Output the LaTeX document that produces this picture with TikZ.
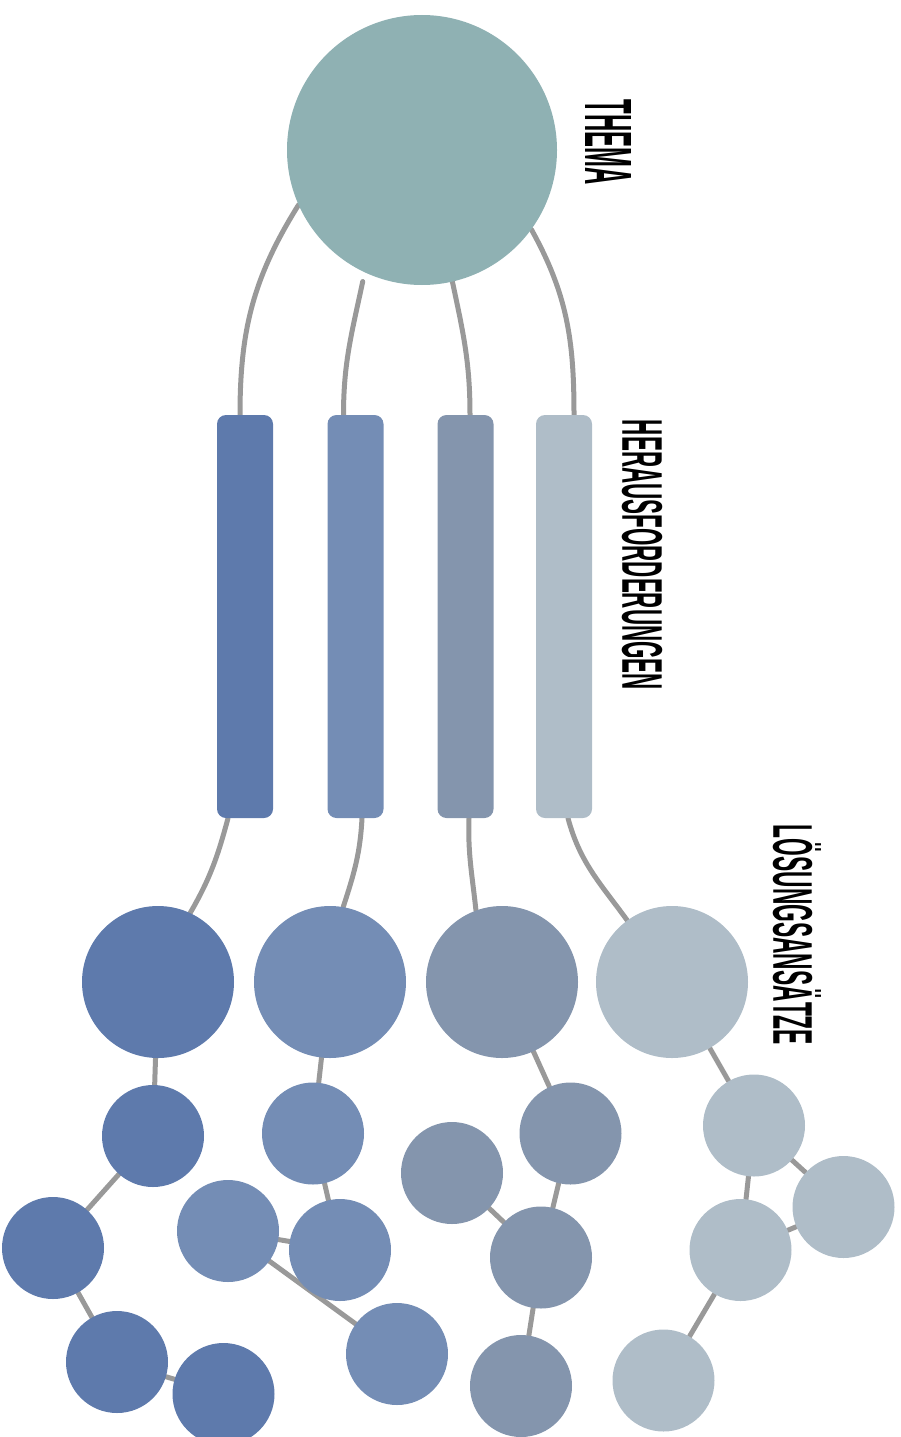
\documentclass[tikz,border=0pt]{standalone}
\usepackage{fontspec}
\setmainfont{Liberation Sans}
\usepackage{graphicx}
\usetikzlibrary{backgrounds}
\newcommand{\tit}[3]{\resizebox{#1}{#2}{\bfseries #3}}
\definecolor{themacol}{RGB}{143,177,179}
\definecolor{colA}{RGB}{94,122,172}
\definecolor{colB}{RGB}{116,141,181}
\definecolor{colC}{RGB}{132,149,173}
\definecolor{colD}{RGB}{175,189,200}
\definecolor{linegray}{RGB}{153,153,153}

\begin{document}
\begin{tikzpicture}[x=1pt,y=1pt,
		bubble/.style={circle,inner sep=0pt,fill=#1},
		big/.style={bubble=#1,minimum size=152pt},
		small/.style={bubble=#1,minimum size=102pt},
		bar/.style={rectangle,rounded corners=9pt,inner sep=0pt,minimum width=56pt,minimum height=403pt,fill=#1},
		link/.style={draw=linegray,line width=5pt,line cap=round}]
			\useasboundingbox (0,0) rectangle (901,-1437);
			\clip (0,0) rectangle (901,-1437);
			\node[bubble=themacol,minimum size=270pt] (thema) at (422,-150) {};
			\node[rotate=-90] (tthema) at (608,-142.5) {\tit{85pt}{46pt}{THEMA}};
				\node[bar=colA] (hA) at (245,-616.5) {};
				\node[bar=colB] (hB) at (355.5,-616.5) {};
				\node[bar=colC] (hC) at (465.5,-616.5) {};
				\node[bar=colD] (hD) at (564,-616.5) {};
			\node[rotate=-90] (therausf) at (642,-555) {\tit{270pt}{40pt}{HERAUSFORDERUNGEN}};
				\node[big=colA] (lA) at (158,-982) {};
				\node[big=colB] (lB) at (330,-982) {};
				\node[big=colC] (lC) at (502,-982) {};
				\node[big=colD] (lD) at (672,-982) {};
			\node[rotate=-90] (tloes) at (792.5,-935) {\tit{220pt}{39pt}{L\smash{Ö}SUNGSANS\smash{Ä}TZE}};
				\node[small=colA] (a1) at (153,-1136) {};
				\node[small=colA] (a2) at (53,-1248) {};
				\node[small=colA] (a3) at (117,-1362) {};
				\node[small=colA] (a4) at (223.5,-1394) {};
				\node[small=colB] (b1) at (313,-1133.5) {};
				\node[small=colB] (b2) at (228,-1231) {};
				\node[small=colB] (b3) at (340,-1250) {};
				\node[small=colB] (b4) at (397,-1354) {};
				\node[small=colC] (c1) at (570.5,-1133.5) {};
				\node[small=colC] (c2) at (452,-1173) {};
				\node[small=colC] (c3) at (541,-1257.5) {};
				\node[small=colC] (c4) at (521,-1386) {};
				\node[small=colD] (d1) at (754,-1125.5) {};
				\node[small=colD] (d2) at (843.5,-1207) {};
				\node[small=colD] (d3) at (740.5,-1250) {};
				\node[small=colD] (d4) at (663.5,-1380.5) {};
			\begin{pgfonlayer}{background}
				\draw[link] (thema.204) to[out=-122,in=90] ([xshift=-5pt]hA.north);
				\draw[link] ([yshift=-10pt]thema.244) to[out=-102,in=90] ([xshift=-12pt]hB.north);
				\draw[link] (thema.283) to[out=-78,in=90] ([xshift=4.5pt]hC.north);
				\draw[link] (thema.324) to[out=-61,in=90] ([xshift=10pt]hD.north);
				\draw[link] ([xshift=-17pt]hA.south) to[out=-105,in=60] (lA.65);
				\draw[link] ([xshift=6.5pt]hB.south) to[out=-93,in=72] (lB.80);
				\draw[link] ([xshift=3.5pt]hC.south) to[out=-92,in=96] (lC.110);
				\draw[link] ([xshift=4pt]hD.south) to[out=-75,in=126] (lD.126);
				\draw[link] (lA) -- (a1) -- (a2) -- (a3) -- (a4);
				\draw[link] (lB) -- (b1) -- (b3) -- (b2) -- (b4);
				\draw[link] (lC) -- (c1) -- (c3) -- (c4);
				\draw[link] (c2) -- (c3);
				\draw[link] (lD) -- (d1) -- (d2) -- (d3) -- (d4);
				\draw[link] (d1) -- (d3);
			\end{pgfonlayer}
		\end{tikzpicture}
\end{document}
